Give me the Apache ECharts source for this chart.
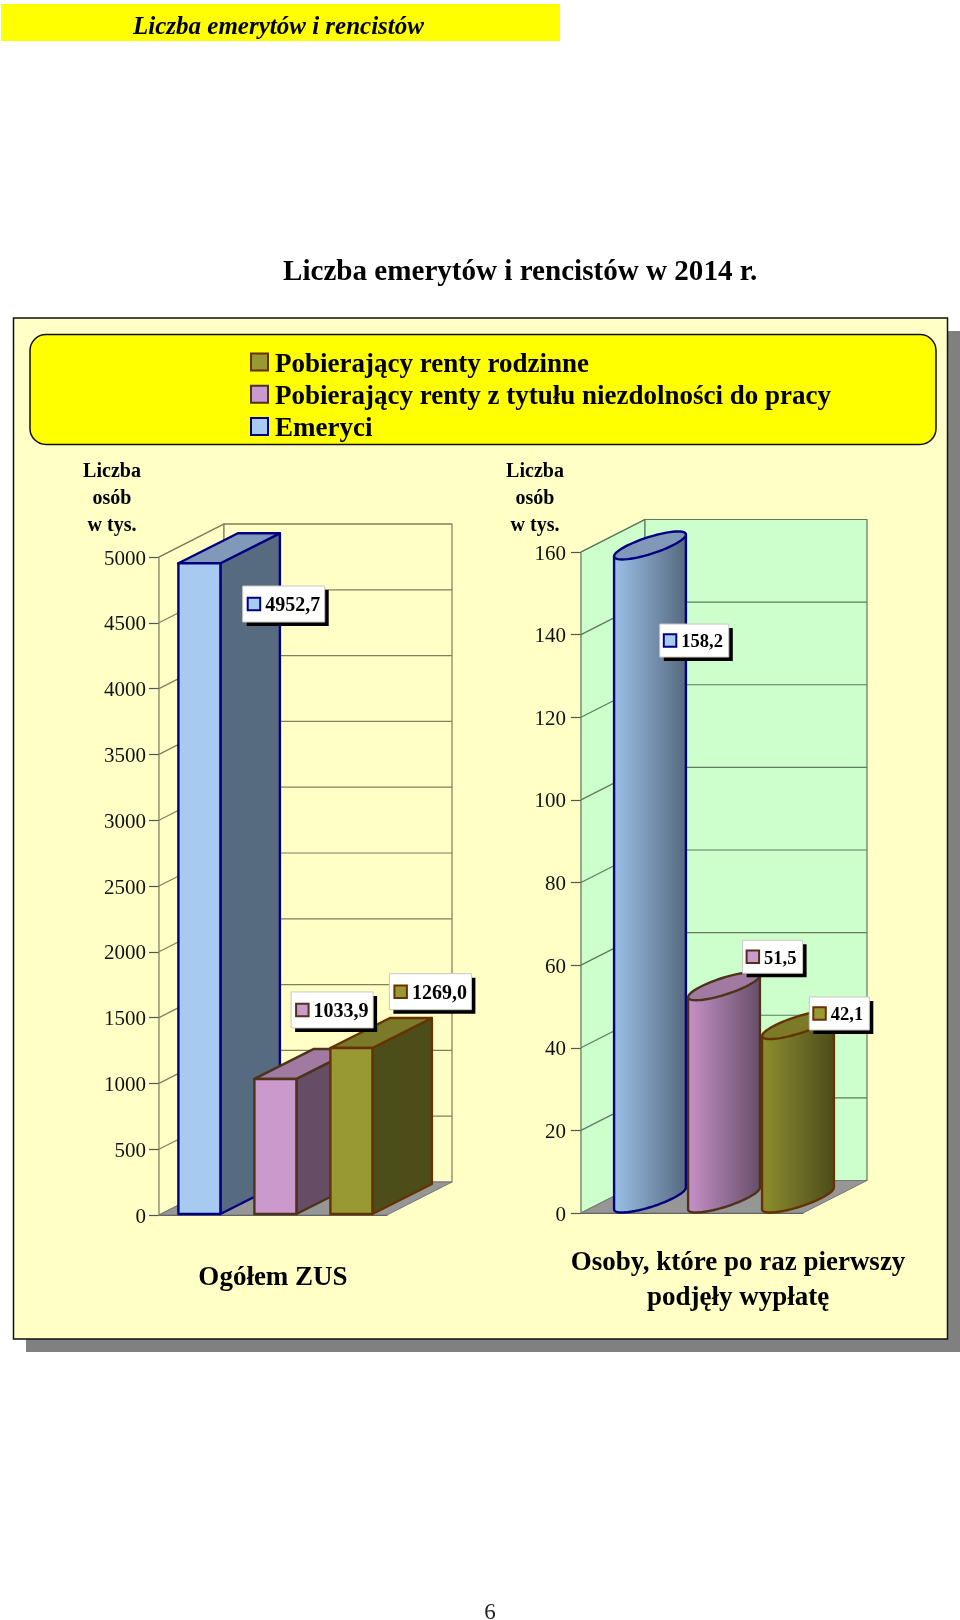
<!DOCTYPE html>
<html>
<head>
<meta charset="utf-8">
<style>html,body{margin:0;padding:0;background:#fff}#c{width:960px;height:1620px}</style>
<script src="https://cdn.jsdelivr.net/npm/echarts@6/dist/echarts.min.js"></script>
</head>
<body>
<div id="c"></div>
<script>
// ---- data ----
const panelNames = ['Ogółem ZUS', 'Osoby, które po raz pierwszy\npodjęły wypłatę'];
const seriesNames = ['Emeryci', 'Pobierający renty z tytułu niezdolności do pracy', 'Pobierający renty rodzinne'];
const emeryci = [4952.7, 158.2];
const rentyNiezdolnosc = [1033.9, 51.5];
const rentyRodzinne = [1269.0, 42.1];
const leftTicks = [0, 500, 1000, 1500, 2000, 2500, 3000, 3500, 4000, 4500, 5000];
const rightTicks = [0, 20, 40, 60, 80, 100, 120, 140, 160];

// ---- styles ----
const FONT = '"Liberation Serif","Times New Roman",serif';
const PANEL = '#ffffc6';
const palette = [
  {front:'#a6caf0', side:'#566a80', top:'#8099b8', border:'#000080', g0:'#9cc1e8', g1:'#55687e'},
  {front:'#cc99cc', side:'#664d66', top:'#a07aa0', border:'#4d3319', g0:'#c792c8', g1:'#654d68'},
  {front:'#999933', side:'#4d4d1a', top:'#7a7a29', border:'#663300', g0:'#8f8f2e', g1:'#4b4b1c'}
];
const allValues = [emeryci, rentyNiezdolnosc, rentyRodzinne];
const leftLabelOffset = [[64.3, 22.8], [36.7, -87], [59, -74.3]];
const rightLabelOffset = [[9.8, 78.6], [18.6, -46], [11.3, -28.1]];
const rightLabelWidth = [69, 60, 60];
const fmt = v => v.toFixed(1).replace('.', ',');

function labelBox(x, y, w, h, text, pal, fontSize, keyPadX) {
  const z2 = 100;
  const key = 12.5;
  const ky = y + (h - key) / 2;
  return [
    {type:'rect', z2, shape:{x:x+4, y:y+4, width:w, height:h}, style:{fill:'#000'}},
    {type:'rect', z2:z2+1, shape:{x, y, width:w, height:h}, style:{fill:'#fff', stroke:'#c8c8c0', lineWidth:1}},
    {type:'rect', z2:z2+2, shape:{x:x+keyPadX, y:ky, width:key, height:key}, style:{fill:pal.front, stroke:pal.border, lineWidth:2}},
    {type:'text', z2:z2+2, style:{x:x+keyPadX+key+5, y:y+h/2+2, text, fill:'#000', verticalAlign:'middle', align:'left',
      font:'bold '+fontSize+'px '+FONT}}
  ];
}

// walls, floor and gridlines of the 3D box
function wallRender(dx, dy, wallFill, lineColor) {
  return function (params, api) {
    const cs = params.coordSys;
    const y = api.coord([api.value(0), api.value(1)])[1];
    const x0 = cs.x, x1 = cs.x + cs.width, yb = cs.y + cs.height, yt = cs.y;
    const line = {stroke: lineColor, lineWidth: 1.2, fill: null};
    const children = [];
    if (params.dataIndex === 0) {
      children.push(
        {type:'polygon', z2:0, shape:{points:[[x0,yt],[x0+dx,yt+dy],[x0+dx,yb+dy],[x0,yb]]}, style:{fill:wallFill, stroke:lineColor, lineWidth:1.2}},
        {type:'rect', z2:0, shape:{x:x0+dx, y:yt+dy, width:x1-x0, height:yb-yt}, style:{fill:wallFill, stroke:lineColor, lineWidth:1.2}},
        {type:'polygon', z2:1, shape:{points:[[x0,yb],[x1,yb],[x1+dx,yb+dy],[x0+dx,yb+dy]]}, style:{fill:'#969696', stroke:'#777', lineWidth:1}}
      );
    }
    if (params.dataIndex > 0) {
      children.push(
        {type:'line', z2:2, shape:{x1:x0, y1:y, x2:x0+dx, y2:y+dy}, style:line},
        {type:'line', z2:2, shape:{x1:x0+dx, y1:y+dy, x2:x1+dx, y2:y+dy}, style:line}
      );
    }
    return {type:'group', children};
  };
}

// rectangular 3D column
function boxRender(i) {
  return function (params, api) {
    const pal = palette[i];
    const band = api.size([1, 0])[0];
    const step = band / 3;
    const p = api.coord([api.value(0), api.value(1)]);
    const p0 = api.coord([api.value(0), 0]);
    const w = 42, dx = 59.5, dy = -30;
    const xl = p[0] + (i - 1) * step + 2.4 - w / 2;
    const yt = p[1], yb = p0[1] - 1;
    const s = {stroke: pal.border, lineWidth: 2.4, lineJoin: 'round'};
    const z = 10 + i * 10;
    const off = leftLabelOffset[i];
    return {type:'group', children:[
      {type:'polygon', z2:z, shape:{points:[[xl+w,yt],[xl+w+dx,yt+dy],[xl+w+dx,yb+dy],[xl+w,yb]]}, style:{fill:pal.side, ...s}},
      {type:'polygon', z2:z, shape:{points:[[xl,yt],[xl+dx,yt+dy],[xl+w+dx,yt+dy],[xl+w,yt]]}, style:{fill:pal.top, ...s}},
      {type:'rect', z2:z+1, shape:{x:xl, y:yt, width:w, height:yb-yt}, style:{fill:pal.front, ...s}},
      ...labelBox(xl+off[0], yt+off[1], 82, 36, fmt(api.value(1)), pal, 20, 5)
    ]};
  };
}

// oblique 3D cylinder
function cylRender(i) {
  return function (params, api) {
    const pal = palette[i];
    const band = api.size([1, 0])[0];
    const step = band / 3;
    const p = api.coord([api.value(0), api.value(1)]);
    const p0 = api.coord([api.value(0), 0]);
    const a = 22.5, bx = 28, by = -14;
    const cx = p[0] + (i - 1) * step + 32;
    const ct = p[1] - 14, cb = p0[1] - 14.5;
    const pt = (c, deg) => { const t = deg * Math.PI / 180;
      return [cx + a * Math.cos(t) + bx * Math.sin(t), c + by * Math.sin(t)]; };
    const t0 = Math.atan2(bx, a) * 180 / Math.PI;
    const lower = [];
    for (let d = t0 + 180; d <= t0 + 360.01; d += 6) lower.push(pt(cb, d));
    const top = [];
    for (let d = 0; d < 360; d += 6) top.push(pt(ct, d));
    const body = lower.concat([pt(ct, t0), pt(ct, t0 + 180)]);
    const z = 10 + i * 10;
    const s = {stroke: pal.border, lineWidth: 2.4, lineJoin: 'round'};
    const off = rightLabelOffset[i];
    return {type:'group', children:[
      {type:'polygon', z2:z, shape:{points:body}, style:{
        fill:{type:'linear', x:0, y:0, x2:1, y2:0, colorStops:[{offset:0, color:pal.g0},{offset:1, color:pal.g1}]}, ...s}},
      {type:'polygon', z2:z+1, shape:{points:top}, style:{fill:pal.top, ...s}},
      ...labelBox(cx+off[0], ct+off[1], rightLabelWidth[i], 33, fmt(api.value(1)), pal, 18.5, 4)
    ]};
  };
}

function axisPair(idx, name, ticks, labelPad, yMargin) {
  return {
    x: {type:'category', gridIndex:idx, data:[name],
      axisLine:{show:true, lineStyle:{color:'#555', width:1.2}}, axisTick:{show:false},
      axisLabel:{show:true, color:'#000', margin:idx ? 33 : 46, fontFamily:FONT, fontWeight:'bold', fontSize:27, lineHeight:35,
        padding:labelPad, align:'center', interval:0}},
    y: {type:'value', gridIndex:idx, min:ticks[0], max:ticks[ticks.length-1], interval:ticks[1]-ticks[0],
      splitLine:{show:false},
      axisLine:{show:true, lineStyle:{color:'#555', width:1.2}},
      axisTick:{show:true, length:10, lineStyle:{color:'#555', width:1.2}},
      axisLabel:{color:'#111', margin:yMargin, fontFamily:FONT, fontSize:21, verticalAlign:'top', lineHeight:4, formatter:v => String(v)}}
  };
}
const axL = axisPair(0, panelNames[0], leftTicks, 0, 13);
const axR = axisPair(1, panelNames[1], rightTicks, [0, 0, 0, 92], 15);

const series = [
  {type:'custom', name:'tłoL', xAxisIndex:0, yAxisIndex:0, z:1, silent:true, clip:false,
   renderItem:wallRender(65, -33, PANEL, '#7f7f5f'),
   encode:{x:0, y:1}, data:leftTicks.map(t => [panelNames[0], t])},
  {type:'custom', name:'tłoR', xAxisIndex:1, yAxisIndex:1, z:1, silent:true, clip:false,
   renderItem:wallRender(64, -32.5, '#ccffcc', '#5f7a5f'),
   encode:{x:0, y:1}, data:rightTicks.map(t => [panelNames[1], t])}
];
seriesNames.forEach((name, i) => {
  series.push({type:'custom', name, xAxisIndex:0, yAxisIndex:0, z:2, clip:false, renderItem:boxRender(i),
    encode:{x:0, y:1}, itemStyle:{color:palette[i].front}, data:[[panelNames[0], allValues[i][0]]]});
  series.push({type:'custom', name, xAxisIndex:1, yAxisIndex:1, z:2, clip:false, renderItem:cylRender(i),
    encode:{x:0, y:1}, itemStyle:{color:palette[i].front}, data:[[panelNames[1], allValues[i][1]]]});
});

const yTitle = 'Liczba\nosób\nw tys.';
const chart = echarts.init(document.getElementById('c'), null, {renderer:'canvas', width:960, height:1620});
chart.setOption({
  animation:false,
  backgroundColor:'#ffffff',
  tooltip:{show:false},
  title:[
    {text:'Liczba emerytów i rencistów', left:128, top:10, textStyle:{fontFamily:FONT, fontStyle:'italic', fontWeight:'bold', fontSize:25, color:'#000'}},
    {text:'Liczba emerytów i rencistów w 2014 r.', left:278, top:253, textStyle:{fontFamily:FONT, fontWeight:'bold', fontSize:29.1, color:'#000'}},
    {text:yTitle, left:107, top:453, textAlign:'center', textStyle:{fontFamily:FONT, fontWeight:'bold', fontSize:20, lineHeight:27, color:'#000'}},
    {text:yTitle, left:530, top:453, textAlign:'center', textStyle:{fontFamily:FONT, fontWeight:'bold', fontSize:20, lineHeight:27, color:'#000'}},
    {text:'6', left:485, top:1596, textAlign:'center', textStyle:{fontFamily:FONT, fontWeight:'normal', fontSize:23, color:'#222'}}
  ],
  legend:{
    orient:'vertical', left:250, top:351.5, padding:0, itemWidth:17, itemHeight:23, itemGap:5.25, selectedMode:false,
    textStyle:{fontFamily:FONT, fontWeight:'bold', fontSize:27, lineHeight:26, color:'#000', padding:[0,0,0,2]},
    data:[2,1,0].map(i => ({name:seriesNames[i], icon:'path://M0,0H17V17H0Z M0,23L0,23Z',
      itemStyle:{color:palette[i].front, borderColor:palette[i].border, borderWidth:2}}))
  },
  grid:[
    {left:159, top:557, width:228, height:658},
    {left:581, top:552, width:222, height:661}
  ],
  xAxis:[axL.x, axR.x],
  yAxis:[axL.y, axR.y],
  series,
  graphic:[
    {type:'rect', z:-10, shape:{x:1, y:4, width:559, height:37}, style:{fill:'#ffff00'}},
    {type:'rect', z:-10, shape:{x:26, y:331, width:934, height:1021}, style:{fill:'#808080'}},
    {type:'rect', z:-9, shape:{x:13.5, y:318, width:934, height:1021}, style:{fill:PANEL, stroke:'#111', lineWidth:1.5}},
    {type:'rect', z:-8, shape:{x:30, y:334.5, width:906, height:110, r:16}, style:{fill:'#ffff00', stroke:'#111', lineWidth:1.5}}
  ]
});
</script>
</body>
</html>
